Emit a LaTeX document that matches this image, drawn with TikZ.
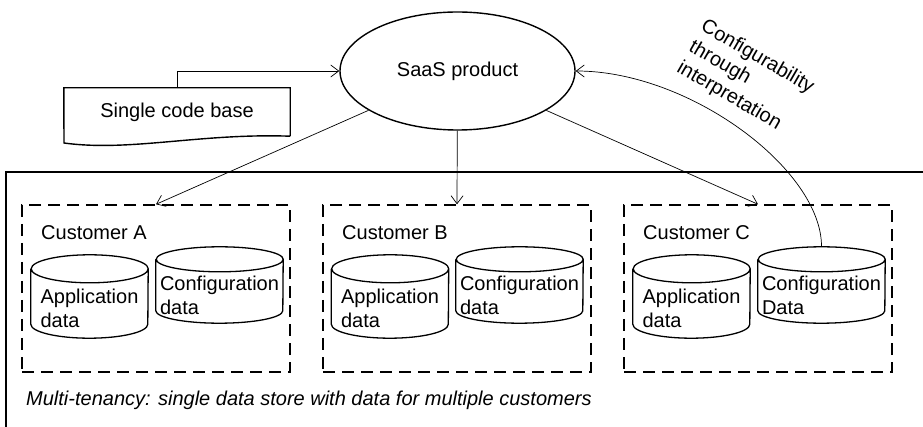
\documentclass[tikz,border=0pt]{standalone}
\usepackage{fontspec}
\setmainfont{Liberation Sans}
\usetikzlibrary{shapes.geometric,positioning,arrows.meta}

\tikzset{
  conn/.style={-{Straight Barb[length=8pt,width=12pt]}, line width=0.7pt},
  cust/.style={draw, dash pattern=on 12pt off 7pt, line width=1.4pt, minimum width=268pt, minimum height=167pt, inner sep=0pt},
  custlabel/.style={anchor=west, inner sep=0pt},
  appdb/.style={minimum width=117pt, minimum height=83pt, inner sep=0pt},
  cfgdb/.style={minimum width=127pt, minimum height=76pt, inner sep=0pt},
  dbline/.style={line width=1.3pt},
  dbtext/.style={align=left, inner sep=0pt},
  note/.style={anchor=west, inner sep=0pt, font=\fontsize{20}{24}\selectfont\itshape}
}

% outline of a database drum round a node: name, x radius, y radius
\newcommand{\dbdrum}[3]{%
  \draw[dbline] ([yshift=-#3]#1.north west) -- ([yshift=#3]#1.south west)
    arc[start angle=180, end angle=360, x radius=#2, y radius=#3]
    -- ([yshift=-#3]#1.north east)
    arc[start angle=0, end angle=360, x radius=#2, y radius=#3];
}

\begin{document}
\begin{tikzpicture}[x=1pt, y=-1pt, font=\fontsize{20}{24}\selectfont]
        \useasboundingbox (0,0) rectangle (923,427);

        \node[shape=ellipse, draw, line width=1.4pt, minimum width=235pt, minimum height=118pt, inner sep=0pt] (saas) at (457.5,71) {SaaS product};
        \node[minimum width=226pt, minimum height=48pt, inner sep=0pt] (code) at (177,112) {Single code base};
        \draw[line width=1.4pt] (code.south east) -- (code.north east) -- (code.north west) -- (64,143)
            .. controls (130,152) and (200,133) .. (code.south east);

        \node[rotate=-30, anchor=north west, align=left, inner sep=0pt] (interp) at (707,17) {Configurability\\through\\interpretation};

        \draw[line width=1.4pt] (6,427) |- (923,172);

        \node[cust] (custA) at (156,288.5) {};
        \node[cust] (custB) at (457,288.5) {};
        \node[cust] (custC) at (758,288.5) {};
        \node[custlabel] (labA) at (41,233) {Customer A};
        \node[custlabel] (labB) at (342,233) {Customer B};
        \node[custlabel] (labC) at (643,233) {Customer C};

        \node[appdb] (appA) at (89.5,296.5) {};
        \node[cfgdb] (cfgA) at (219.5,285) {};
        \node[appdb] (appB) at (390,296.5) {};
        \node[cfgdb] (cfgB) at (519.5,285) {};
        \node[appdb] (appC) at (691.5,296.5) {};
        \node[cfgdb] (cfgC) at (821.5,285) {};
        \dbdrum{appA}{58.5pt}{14pt}
        \dbdrum{cfgA}{63.5pt}{12.5pt}
        \dbdrum{appB}{58.5pt}{14pt}
        \dbdrum{cfgB}{63.5pt}{12.5pt}
        \dbdrum{appC}{58.5pt}{14pt}
        \dbdrum{cfgC}{63.5pt}{12.5pt}

        \node[dbtext] (appAtext) at (89.5,308.5) {Application\\data};
        \node[dbtext] (cfgAtext) at (219.5,295) {Configuration\\data};
        \node[dbtext] (appBtext) at (390,308.5) {Application\\data};
        \node[dbtext] (cfgBtext) at (519.5,295) {Configuration\\data};
        \node[dbtext] (appCtext) at (691.5,308.5) {Application\\data};
        \node[dbtext] (cfgCtext) at (821.5,295) {Configuration\\Data};

        \node[note] (tenancy) at (26,400) {Multi-tenancy: single data store with data for multiple customers};

        \draw[conn] (code.north) |- (saas.west);
        \draw[conn] (saas) -- (custA.north);
        \draw[conn] (saas) -- (custB.north);
        \draw[conn] (saas) -- (custC.north);
        \draw[conn] (cfgC.north) .. controls (822,170) and (690,71) .. (saas.east);
    \end{tikzpicture}
\end{document}
